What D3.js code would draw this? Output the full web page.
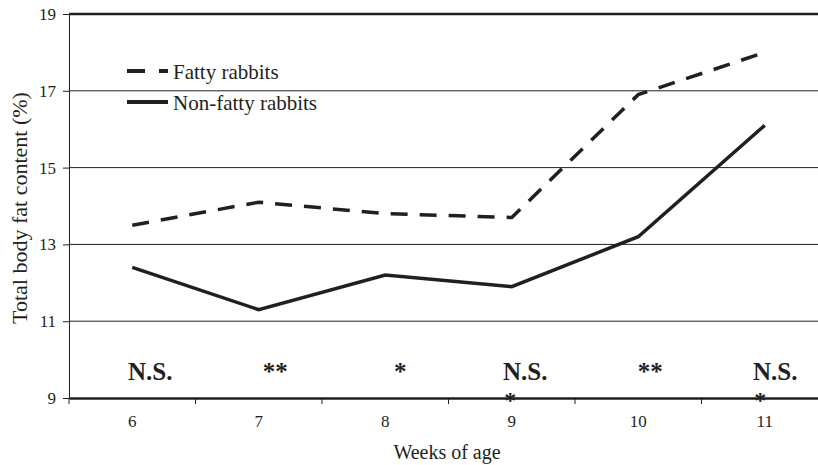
<!DOCTYPE html>
<html>
<head>
<meta charset="utf-8">
<script src="https://cdn.jsdelivr.net/npm/d3@7"></script>
<style>
  body { margin: 0; background: #fff; }
  svg { font-family: 'Liberation Serif', 'DejaVu Serif', serif; }
</style>
</head>
<body>
<div id="chart"></div>
<script>
const weeks = ['6', '7', '8', '9', '10', '11']
const fatty = [13.5, 14.1, 13.8, 13.7, 16.9, 18.0]
const nonFatty = [12.4, 11.3, 12.2, 11.9, 13.2, 16.1]
const yTicks = [9, 11, 13, 15, 17, 19]
const signif = ['N.S.', '**', '*', 'N.S.', '**', 'N.S.']
const signif2 = ['', '', '', '*', '', '*']

const w = 818
const h = 465
const padLeft = 69
const padTop = 14
const padBottom = 398
const ink = '#231f20'

const svg = d3.select('#chart').append('svg').attr('width', w).attr('height', h)

const x = d3.scaleBand().domain(weeks).range([padLeft, padLeft + 6 * 126.5])
const y = d3.scaleLinear().domain([9, 19]).range([padBottom, padTop])

// grid lines
svg.append('g')
  .selectAll('line')
  .data(yTicks.filter((d) => d > 9))
  .join('line')
  .attr('x1', padLeft)
  .attr('x2', w)
  .attr('y1', (d) => y(d))
  .attr('y2', (d) => y(d))
  .attr('stroke', ink)
  .attr('stroke-width', (d) => (d === 19 ? 2.5 : 1))

// y axis
const yAxis = d3.axisLeft(y).tickValues(yTicks).tickSize(6).tickPadding(7)
const gy = svg.append('g').attr('transform', `translate(${padLeft},0)`).call(yAxis)
gy.attr('font-family', null)
gy.select('.domain').attr('stroke', ink)
gy.selectAll('.tick line').attr('stroke', ink)
gy.selectAll('.tick text').attr('font-size', 17).attr('fill', ink)

// x axis
const xAxis = d3.axisBottom(x).tickSize(0).tickPadding(17)
const gx = svg.append('g').attr('transform', `translate(0,${padBottom})`).call(xAxis)
gx.attr('font-family', null)
gx.select('.domain').attr('stroke', ink).attr('stroke-width', 2.5)
gx.selectAll('.tick text').attr('font-size', 17).attr('fill', ink)
svg.append('g')
  .selectAll('line')
  .data(weeks)
  .join('line')
  .attr('x1', (d) => x(d))
  .attr('x2', (d) => x(d))
  .attr('y1', padBottom)
  .attr('y2', padBottom + 6)
  .attr('stroke', ink)

// series
const line = d3.line()
  .x((d, i) => x(weeks[i]) + x.bandwidth() / 2)
  .y((d) => y(d))

svg.append('path')
  .attr('d', line(fatty))
  .attr('fill', 'none')
  .attr('stroke', ink)
  .attr('stroke-width', 3.5)
  .attr('stroke-dasharray', '17,12')

svg.append('path')
  .attr('d', line(nonFatty))
  .attr('fill', 'none')
  .attr('stroke', ink)
  .attr('stroke-width', 3.5)

// significance labels
svg.append('g')
  .selectAll('text')
  .data(signif)
  .join('text')
  .text((d) => d)
  .attr('x', (d, i) => x(weeks[i]) + x.bandwidth() / 2 + 18 - i * 1.5)
  .attr('y', 380)
  .attr('text-anchor', 'middle')
  .attr('font-size', 25)
  .attr('font-weight', 'bold')
  .attr('fill', ink)

svg.append('g')
  .selectAll('text')
  .data(signif2)
  .join('text')
  .text((d) => d)
  .attr('x', (d, i) => x(weeks[i]) + x.bandwidth() / 2 + 3 - i * 1.5)
  .attr('y', 408)
  .attr('text-anchor', 'middle')
  .attr('font-size', 24)
  .attr('font-weight', 'bold')
  .attr('fill', ink)

// legend
const legend = svg.append('g').attr('transform', 'translate(127,71)')
legend.append('line')
  .attr('x1', 0).attr('x2', 41).attr('y1', 0).attr('y2', 0)
  .attr('stroke', ink).attr('stroke-width', 4).attr('stroke-dasharray', '18,14')
legend.append('text').text('Fatty rabbits')
  .attr('x', 46).attr('y', 8).attr('font-size', 21).attr('fill', ink)
legend.append('line')
  .attr('x1', 0).attr('x2', 41).attr('y1', 31).attr('y2', 31)
  .attr('stroke', ink).attr('stroke-width', 4)
legend.append('text').text('Non-fatty rabbits')
  .attr('x', 46).attr('y', 39).attr('font-size', 21).attr('fill', ink)

// axis titles
svg.append('text')
  .text('Total body fat content (%)')
  .attr('transform', 'rotate(-90)')
  .attr('x', -208)
  .attr('y', 27)
  .attr('text-anchor', 'middle')
  .attr('font-size', 22)
  .attr('fill', ink)

svg.append('text')
  .text('Weeks of age')
  .attr('x', 447)
  .attr('y', 459)
  .attr('text-anchor', 'middle')
  .attr('font-size', 20)
  .attr('fill', ink)
</script>
</body>
</html>
